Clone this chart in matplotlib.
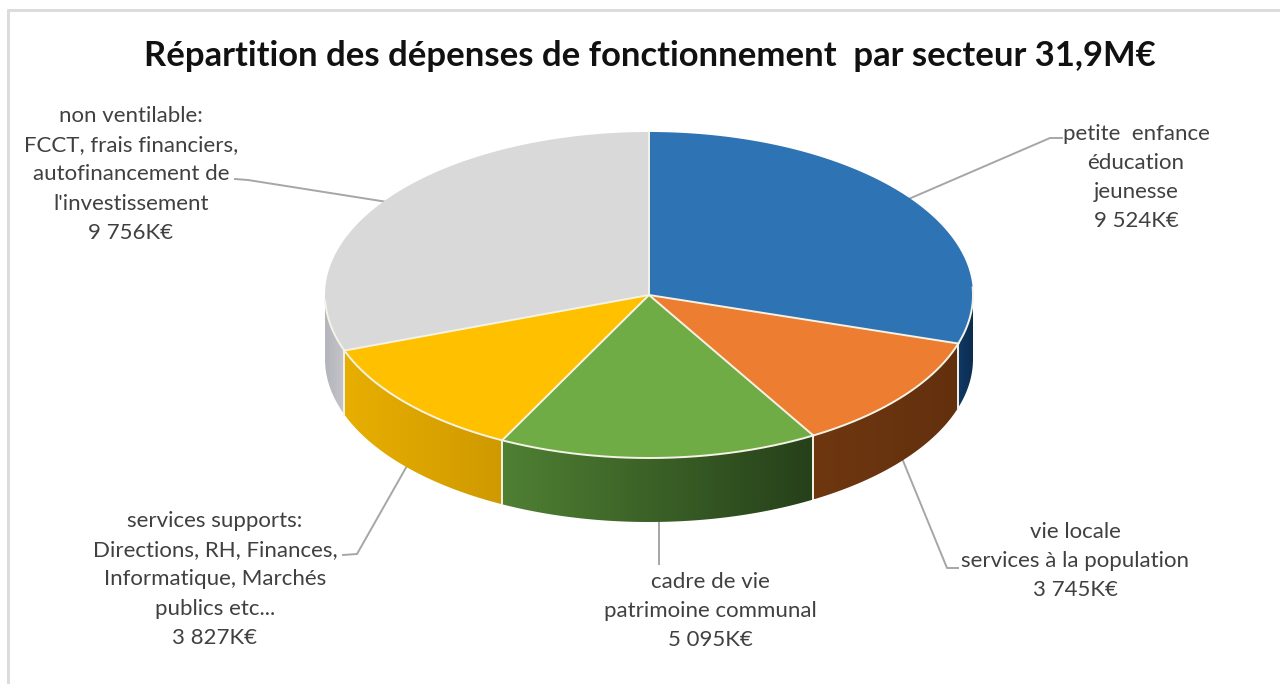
import numpy as np
import matplotlib
matplotlib.use('Agg')
from matplotlib import pyplot as plt
from matplotlib.colors import to_rgb
from matplotlib.patches import Polygon

title = 'Répartition des dépenses de fonctionnement  par secteur 31,9M€'
values = [9524, 3745, 5095, 3827, 9756]
value_labels = ['9 524K€', '3 745K€', '5 095K€', '3 827K€', '9 756K€']
names = [
    ['petite  enfance', 'éducation', 'jeunesse'],
    ['vie locale', 'services à la population'],
    ['cadre de vie', 'patrimoine communal'],
    ['services supports:', 'Directions, RH, Finances,', 'Informatique, Marchés', 'publics etc...'],
    ['non ventilable:', 'FCCT, frais financiers,', 'autofinancement de', 'l\'investissement'],
]

top_colors = ['#2e74b5', '#ed7d31', '#6fac46', '#ffc000', '#d9d9d9']
wall_left = ['#0f3a66', '#6e3710', '#4f8033', '#e8ae00', '#b4b4bc']
wall_right = ['#0c2c50', '#63300e', '#26401a', '#cf9a00', '#c4c4ca']
edge = '#f5f3e6'
line_color = '#a6a6a6'
text_color = '#404040'

cx, cy = 649, 295
rx, ry = 324, 163
depth = 64
line_step = 29.2

# x centre and first baseline of each label, then the leader's elbow and end
label_pos = [(1136, 139.5), (1075, 538), (710, 588), (215, 527), (131, 122)]
leader_pts = [
    [(1050, 138), (1062, 138)],
    [(947, 568), (958, 568)],
    [(659, 564)],
    [(357, 554), (343, 555)],
    [(248, 180), (235, 179)],
]

plt.rcParams['font.family'] = ['Lato', 'DejaVu Sans']

fig = plt.figure(figsize=(12.8, 6.84), dpi=100)
ax = fig.add_axes([0, 0, 1, 1])
ax.axis('off')


def rim(a, down=0):
    r = np.radians(a)
    return cx + rx * np.cos(r), cy - ry * np.sin(r) + down


# frame of the pasted screenshot
ax.plot([8, 8, 1280], [684, 9.5, 9.5], color='#dcdcdc', lw=2.2, zorder=1)

angles = 90 - np.cumsum([0] + values) / sum(values) * 360

for i in range(len(values)):
    a0, a1 = angles[i], angles[i + 1]

    # side wall, front half only, gradient clipped to the wall shape
    lo, hi = max(a1, -180), min(a0, 0)
    if hi > lo:
        arc = np.linspace(hi, lo, 120)
        xs, ys = rim(arc)
        wall = np.c_[np.r_[xs, xs[::-1]], np.r_[ys, ys[::-1] + depth]]
        x_a, x_b = xs.min(), xs.max()
        t = np.linspace(0, 1, 256)[None, :, None]
        grad = np.array(to_rgb(wall_left[i]))[None, None, :] * (1 - t) \
            + np.array(to_rgb(wall_right[i]))[None, None, :] * t
        patch = Polygon(wall, closed=True, facecolor='none', edgecolor='none',
                        transform=ax.transData)
        ax.add_patch(patch)
        im = ax.imshow(grad, extent=[x_a, x_b, ys.max() + depth, ys.min()],
                       aspect='auto', zorder=2, interpolation='bilinear')
        im.set_clip_path(patch)

    # top face
    arc = np.linspace(a0, a1, 200)
    xs, ys = rim(arc)
    ax.fill(np.r_[cx, xs], np.r_[cy, ys], facecolor=top_colors[i],
            edgecolor='none', zorder=3)

# slice edges on top and down the walls
for i in range(len(values)):
    a0, a1 = angles[i], angles[i + 1]
    arc = np.linspace(a0, a1, 200)
    xs, ys = rim(arc)
    keep = (arc <= 3) & (arc >= -178)
    if keep.any():
        ax.plot(xs[keep], ys[keep], color=edge, lw=1.4, zorder=4)
    x, y = rim(a0)
    ax.plot([cx, x], [cy, y], color=edge, lw=1.4, zorder=4)
    if -180 < a0 < 0:
        ax.plot([x, x], [y, y + depth], color=edge, lw=1.4, zorder=4)

# leaders start on the middle of each slice
for i in range(len(values)):
    mid = (angles[i] + angles[i + 1]) / 2
    down = depth if np.sin(np.radians(mid)) < 0 else 0
    x, y = rim(mid, down)
    pts = [(x, y)] + leader_pts[i]
    ax.plot([p[0] for p in pts], [p[1] for p in pts], color=line_color, lw=1.4, zorder=1)
    for k, line in enumerate(names[i] + [value_labels[i]]):
        ax.text(label_pos[i][0], label_pos[i][1] + k * line_step, line,
                ha='center', va='baseline', fontsize=16, color=text_color, zorder=5)

ax.text(650, 66, title, ha='center', va='baseline', fontsize=24.9,
        fontweight='bold', color='#111111', zorder=5)

ax.set_xlim(0, 1280)
ax.set_ylim(684, 0)

fig.savefig('out.png', dpi=100)
